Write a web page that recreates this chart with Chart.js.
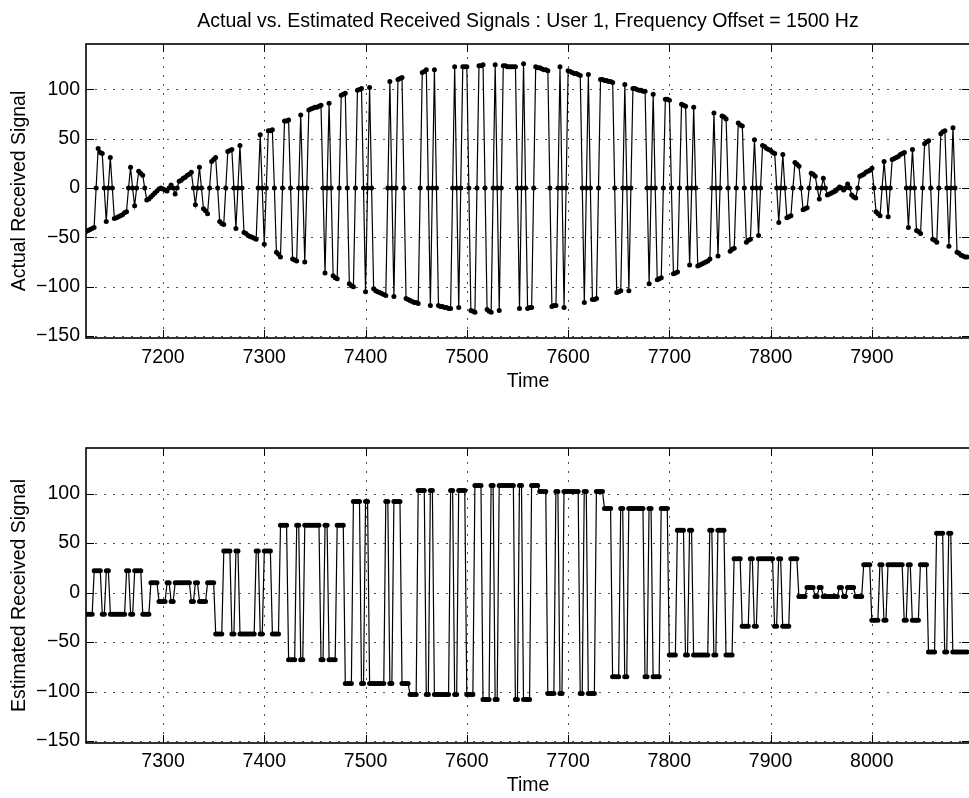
<!DOCTYPE html>
<html>
<head>
<meta charset="utf-8">
<script src="https://cdn.jsdelivr.net/npm/chart.js@4.4.1/dist/chart.umd.min.js"></script>
<style>
  html, body { margin: 0; padding: 0; background: #fff; overflow: hidden; }
  #wrap { position: relative; width: 969px; height: 798px; overflow: hidden; }
  canvas { position: absolute; left: 0; }
  #topPlot { top: 0; }
  #bottomPlot { top: 400px; }
</style>
</head>
<body>
<div id="wrap">
  <canvas id="topPlot" width="980" height="400"></canvas>
  <canvas id="bottomPlot" width="980" height="398"></canvas>
</div>
<script>
// === Data ===
const DT = 2;                 // sample spacing (time units)
const actualStart = 7124;     // first sample of the upper trace
const estStart = 7224;        // first sample of the lower trace

// upper trace, one row per 64-unit block
const actualSignal = [
  -44,
  -43, -42, -41, -40, 0, 40, 36, 35, 0, -34, 0, 31, 0, -31, -30, -29, -28, -27, -25, -24, 0, 21, 0, -18, 0, 17, 15, 13, 0, -12, -11, -9,
  -7, -5, -3, -1, 0, -1, -2, -3, 0, 3, 0, -6, 0, 7, 8, 10, 11, 13, 14, 16, 0, -17, 0, 21, 0, -21, -23, -26, 0, 27, 29, 31,
  0, -34, -36, -37, 0, 37, 38, 39, 0, -41, 0, 43, 0, -45, -46, -48, -49, -50, -51, -52, 0, 54, 0, -57, 0, 58, 58, 59, 0, -65, -67, -70,
  0, 68, 68, 69, 0, -72, -73, -74, 0, 74, 0, -75, 0, 79, 80, 81, 82, 82, 83, 84, 0, -86, 0, 86, 0, -89, -91, -92, 0, 94, 95, 96,
  0, -97, -99, -100, 0, 99, 100, 101, 0, -105, 0, 102, 0, -102, -104, -105, -106, -107, -108, -109, 0, 108, 0, -110, 0, 110, 111, 112, 0, -112, -113, -114,
  -115, -116, -116, -117, 0, 117, 118, 120, 0, -119, 0, 120, 0, -119, -120, -120, -121, -121, -122, -122, 0, 123, 0, -121, 0, 123, 123, 123, 0, -124, -125, -126,
  0, 124, 124, 125, 0, -123, -125, -126, 0, 125, 0, -124, 0, 124, 124, 123, 123, 123, 123, 123, 0, -122, 0, 126, 0, -122, -121, -121, 0, 123, 122, 122,
  121, 120, 120, 119, 0, -120, -119, -119, 0, 123, 0, -121, 0, 119, 118, 117, 116, 116, 115, 114, 0, -116, 0, 115, 0, -113, -113, -112, 0, 110, 110, 109,
  109, 108, 108, 107, 0, -106, -105, -104, 0, 105, 0, -104, 0, 101, 101, 100, 99, 99, 98, 98, 0, -97, 0, 95, 0, -93, -92, -91, 0, 90, 90, 89,
  0, -87, -86, -85, 0, 85, 84, 83, 0, -78, 0, 82, 0, -79, -78, -77, -76, -75, -74, -72, 0, 76, 0, -69, 0, 73, 72, 70, 0, -64, -62, -61,
  0, 66, 64, 63, 0, -55, -53, -52, 0, 49, 0, -48, 0, 43, 42, 40, 39, 38, 36, 35, 0, -35, 0, 34, 0, -30, -29, -28, 0, 26, 24, 22,
  0, -22, -21, -20, 0, 15, 14, 12, 0, -11, 0, 10, 0, -7, -6, -5, -4, -3, -1, 1, 0, -2, 0, 4, 0, -7, -9, -10, 0, 12, 13, 14,
  16, 17, 18, 20, 0, -24, -26, -28, 0, 27, 0, -29, 0, 29, 30, 31, 32, 34, 35, 36, 0, -40, 0, 39, 0, -43, -44, -46, 0, 45, 47, 48,
  0, -52, -53, -55, 0, 55, 57, 58, 0, -59, 0, 61, 0, -65, -66, -68, -69, -70, -70
];

// lower trace, one row per 64-unit block
const estSignal = [
  -22, -22, -22, -22, 22, 22, 22, 22, -22, -22, 22, 22, -22, -22, -22, -22, -22, -22, -22, -22, 22, 22, -22, -22, 22, 22, 22, 22, -22, -22, -22, -22,
  10, 10, 10, 10, -9, -9, -9, -9, 10, 10, -9, -9, 10, 10, 10, 10, 10, 10, 10, 10, -9, -9, 10, 10, -9, -9, -9, -9, 10, 10, 10, 10,
  -42, -42, -42, -42, 42, 42, 42, 42, -42, -42, 42, 42, -42, -42, -42, -42, -42, -42, -42, -42, 42, 42, -42, -42, 42, 42, 42, 42, -42, -42, -42, -42,
  68, 68, 68, 68, -68, -68, -68, -68, 68, 68, -68, -68, 68, 68, 68, 68, 68, 68, 68, 68, -68, -68, 68, 68, -68, -68, -68, -68, 68, 68, 68, 68,
  -92, -92, -92, -92, 92, 92, 92, 92, -92, -92, 92, 92, -92, -92, -92, -92, -92, -92, -92, -92, 92, 92, -92, -92, 92, 92, 92, 92, -92, -92, -92, -92,
  -103, -103, -103, -103, 103, 103, 103, 103, -103, -103, 103, 103, -103, -103, -103, -103, -103, -103, -103, -103, 103, 103, -103, -103, 103, 103, 103, 103, -103, -103, -103, -103,
  108, 108, 108, 108, -108, -108, -108, -108, 108, 108, -108, -108, 108, 108, 108, 108, 108, 108, 108, 108, -108, -108, 108, 108, -108, -108, -108, -108, 108, 108, 108, 108,
  102, 102, 102, 102, -102, -102, -102, -102, 102, 102, -102, -102, 102, 102, 102, 102, 102, 102, 102, 102, -102, -102, 102, 102, -102, -102, -102, -102, 102, 102, 102, 102,
  85, 85, 85, 85, -85, -85, -85, -85, 85, 85, -85, -85, 85, 85, 85, 85, 85, 85, 85, 85, -85, -85, 85, 85, -85, -85, -85, -85, 85, 85, 85, 85,
  -63, -63, -63, -63, 63, 63, 63, 63, -63, -63, 63, 63, -63, -63, -63, -63, -63, -63, -63, -63, 63, 63, -63, -63, 63, 63, 63, 63, -63, -63, -63, -63,
  34, 34, 34, 34, -34, -34, -34, -34, 34, 34, -34, -34, 34, 34, 34, 34, 34, 34, 34, 34, -34, -34, 34, 34, -34, -34, -34, -34, 34, 34, 34, 34,
  -4, -4, -4, -4, 5, 5, 5, 5, -4, -4, 5, 5, -4, -4, -4, -4, -4, -4, -4, -4, 5, 5, -4, -4, 5, 5, 5, 5, -4, -4, -4, -4,
  28, 28, 28, 28, -28, -28, -28, -28, 28, 28, -28, -28, 28, 28, 28, 28, 28, 28, 28, 28, -28, -28, 28, 28, -28, -28, -28, -28, 28, 28, 28, 28,
  -60, -60, -60, -60, 60, 60, 60, 60, -60, -60, 60, 60, -60, -60, -60, -60, -60, -60, -60, -60
];

const topTicksX = [7200, 7300, 7400, 7500, 7600, 7700, 7800, 7900];
const bottomTicksX = [7300, 7400, 7500, 7600, 7700, 7800, 7900, 8000];
const ticksY = [-150, -100, -50, 0, 50, 100];
const topRangeX = [7124, 7996.8];
const bottomRangeX = [7223.9, 8097];
const rangeY = [-152, 146];

const titleText = 'Actual vs. Estimated Received Signals : User 1, Frequency Offset = 1500 Hz';

Chart.defaults.font.family = "'Liberation Sans', Arial, Helvetica, sans-serif";
Chart.defaults.font.size = 19.5;
Chart.defaults.color = '#000';

// === grid, inward ticks and box like MATLAB axes ===
const matlabAxes = {
  id: 'matlabAxes',
  beforeDatasetsDraw(chart) {
    const { ctx, chartArea: a, scales: { x, y } } = chart;
    ctx.save();
    ctx.strokeStyle = 'rgba(0,0,0,0.7)';
    ctx.lineWidth = 1;
    ctx.setLineDash([2, 7]);
    x.ticks.forEach(t => {
      const px = Math.round(x.getPixelForValue(t.value)) + 0.5;
      ctx.beginPath(); ctx.moveTo(px, a.bottom); ctx.lineTo(px, a.top); ctx.stroke();
    });
    y.ticks.forEach(t => {
      const py = Math.round(y.getPixelForValue(t.value)) + 0.5;
      ctx.beginPath(); ctx.moveTo(a.left, py); ctx.lineTo(a.right, py); ctx.stroke();
    });
    ctx.restore();
  },
  afterDraw(chart) {
    const { ctx, chartArea: a, scales: { x, y } } = chart;
    const len = 8;
    ctx.save();
    ctx.strokeStyle = '#000';
    ctx.lineWidth = 1;
    x.ticks.forEach(t => {
      const px = Math.round(x.getPixelForValue(t.value)) + 0.5;
      ctx.beginPath();
      ctx.moveTo(px, a.bottom); ctx.lineTo(px, a.bottom - len);
      ctx.moveTo(px, a.top); ctx.lineTo(px, a.top + len);
      ctx.stroke();
    });
    y.ticks.forEach(t => {
      const py = Math.round(y.getPixelForValue(t.value)) + 0.5;
      ctx.beginPath();
      ctx.moveTo(a.left, py); ctx.lineTo(a.left + len, py);
      ctx.moveTo(a.right, py); ctx.lineTo(a.right - len, py);
      ctx.stroke();
    });
    ctx.lineWidth = 1.6;
    ctx.strokeRect(a.left, a.top, a.right - a.left, a.bottom - a.top);
    ctx.restore();
  }
};

function minusFmt(v) {
  return v < 0 ? '\u2212' + Math.abs(v) : String(v);
}

function makePlot(canvasId, values, t0, rangeX, ticksX, yTitle, padTop, withTitle) {
  const points = values.map((v, i) => ({ x: t0 + i * DT, y: v }));
  return new Chart(document.getElementById(canvasId), {
    type: 'line',
    data: {
      datasets: [{
        data: points,
        borderColor: '#000',
        borderWidth: 1.2,
        pointRadius: 2.5,
        pointBackgroundColor: '#000',
        pointBorderWidth: 0,
        tension: 0
      }]
    },
    options: {
      responsive: false,
      animation: false,
      devicePixelRatio: 1,
      layout: { padding: { left: 0, right: 10, top: padTop, bottom: withTitle ? 7 : 0 } },
      plugins: {
        legend: { display: false },
        tooltip: { enabled: false },
        title: {
          display: withTitle,
          text: titleText,
          fullSize: false,
          color: '#000',
          font: { size: 19.5, weight: 'normal' },
          padding: { top: 9.6, bottom: 11 }
        }
      },
      scales: {
        x: {
          type: 'linear',
          min: rangeX[0],
          max: rangeX[1],
          afterBuildTicks: s => { s.ticks = ticksX.map(v => ({ value: v })); },
          afterFit: s => { s.height = 55; },
          grid: { display: false, drawTicks: false },
          border: { display: false },
          ticks: { autoSkip: false, maxRotation: 0, minRotation: 0, padding: withTitle ? 8 : 7, callback: v => String(v) },
          title: { display: true, text: 'Time', padding: { top: 0, bottom: withTitle ? 0 : 1 } }
        },
        y: {
          min: rangeY[0],
          max: rangeY[1],
          afterBuildTicks: s => { s.ticks = ticksY.map(v => ({ value: v })); },
          afterFit: s => { s.width = 86; },
          grid: { display: false, drawTicks: false },
          border: { display: false },
          ticks: { padding: 6, callback: v => minusFmt(v) },
          title: { display: true, text: yTitle, padding: { top: 8, bottom: 0 } }
        }
      }
    },
    plugins: [matlabAxes]
  });
}

makePlot('topPlot', actualSignal, actualStart, topRangeX, topTicksX, 'Actual Received Signal', 0, true);
makePlot('bottomPlot', estSignal, estStart, bottomRangeX, bottomTicksX, 'Estimated Received Signal', 48, false);
</script>
</body>
</html>
